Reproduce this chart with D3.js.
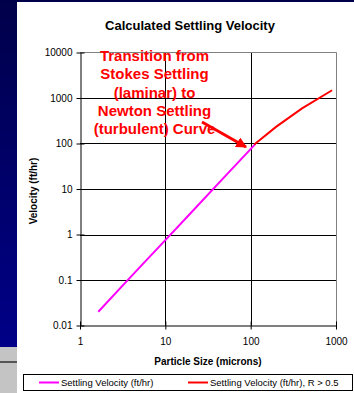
<!DOCTYPE html>
<html>
<head>
<meta charset="utf-8">
<script src="https://cdn.jsdelivr.net/npm/d3@7"></script>
<style>
  html, body { margin: 0; padding: 0; background: #000060; }
  svg { display: block; }
  text { font-family: "Liberation Sans", Arial, sans-serif; }
</style>
</head>
<body>
<svg id="chart" width="354" height="393"></svg>
<script>
// Particle size (microns) and settling velocity (ft/hr)
const stokesSize = [1.64, 3, 5, 10, 20, 50, 114];
const stokesVelocity = [0.02, 0.068, 0.19, 0.75, 3.0, 19, 98];

const newtonSize = [110, 200, 400, 900];
const newtonVelocity = [95, 235, 590, 1480];

const xTicks = [1, 10, 100, 1000];
const yTicks = [0.01, 0.1, 1, 10, 100, 1000, 10000];

const titleText = "Calculated Settling Velocity";
const xTitle = "Particle Size (microns)";
const yTitle = "Velocity (ft/hr)";
const seriesNames = ["Settling Velocity (ft/hr)", "Settling Velocity (ft/hr), R > 0.5"];
const seriesColors = ["#ff00ff", "#ff0000"];
const noteLines = ["Transition from", "Stokes Settling", "(laminar) to", "Newton Settling", "(turbulent) Curve"];

const svg = d3.select("#chart");

// slide background: navy gradient, grey strip at lower left, white chart panel
const defs = svg.append("defs");
const grad = defs.append("linearGradient").attr("id", "navy")
  .attr("x1", 0).attr("y1", 0).attr("x2", 0).attr("y2", 1);
grad.append("stop").attr("offset", 0).attr("stop-color", "#00004a");
grad.append("stop").attr("offset", 1).attr("stop-color", "#000090");
svg.append("rect").attr("width", 354).attr("height", 393).attr("fill", "url(#navy)");
svg.append("rect").attr("x", 0).attr("y", 347).attr("width", 17).attr("height", 46).attr("fill", "#c4c4c4");
svg.append("rect").attr("x", 0).attr("y", 361).attr("width", 17).attr("height", 2).attr("fill", "#555");
svg.append("rect").attr("x", 17).attr("y", 2).attr("width", 337).attr("height", 391).attr("fill", "#fff");

const plot = { left: 80, right: 336, top: 52.5, bottom: 325.5 };

const x = d3.scaleLog().domain([1, 1000]).range([plot.left, plot.right]);
const y = d3.scaleLog().domain([0.01, 10000]).range([plot.bottom, plot.top]);

// title
svg.append("text").attr("x", 190).attr("y", 30).attr("text-anchor", "middle")
  .attr("font-size", 13).attr("font-weight", "bold").attr("fill", "#000").text(titleText);

// gridlines
const g = svg.append("g");
g.selectAll("line.hg").data(yTicks.slice(1, -1)).join("line")
  .attr("x1", plot.left).attr("x2", plot.right)
  .attr("y1", d => Math.round(y(d)) + 0.5).attr("y2", d => Math.round(y(d)) + 0.5)
  .attr("stroke", "#000").attr("stroke-width", 1);
g.selectAll("line.vg").data(xTicks.slice(1, -1)).join("line")
  .attr("y1", plot.top).attr("y2", plot.bottom)
  .attr("x1", d => Math.round(x(d)) + 0.5).attr("x2", d => Math.round(x(d)) + 0.5)
  .attr("stroke", "#000").attr("stroke-width", 1);

// plot border (top/right grey)
g.append("line").attr("x1", plot.left).attr("x2", plot.right + 0.5)
  .attr("y1", plot.top).attr("y2", plot.top).attr("stroke", "#808080");
g.append("line").attr("x1", plot.right + 0.5).attr("x2", plot.right + 0.5)
  .attr("y1", plot.top).attr("y2", plot.bottom).attr("stroke", "#808080");

// axes with crossing ticks
const yAxis = d3.axisLeft(y).tickValues(yTicks).tickFormat(d => String(d)).tickSizeInner(4).tickSizeOuter(0).tickPadding(4);
const ya = svg.append("g").attr("transform", `translate(${plot.left + 0.5},0)`).call(yAxis);
ya.select(".domain").attr("stroke", "#000");
ya.selectAll(".tick line").attr("x1", -4).attr("x2", 4).attr("stroke", "#000");
ya.selectAll(".tick text").attr("font-size", 10).attr("font-family", "Liberation Sans, Arial, sans-serif").attr("fill", "#000");

const xAxis = d3.axisBottom(x).tickValues(xTicks).tickFormat(d => String(d)).tickSizeInner(4).tickSizeOuter(0).tickPadding(8);
const xa = svg.append("g").attr("transform", `translate(0,${plot.bottom})`).call(xAxis);
xa.select(".domain").attr("stroke", "#000");
xa.selectAll(".tick line").attr("y1", -4).attr("y2", 4).attr("stroke", "#000");
xa.selectAll(".tick text").attr("font-size", 10).attr("font-family", "Liberation Sans, Arial, sans-serif").attr("fill", "#000");

// axis titles
svg.append("text").attr("x", 208).attr("y", 365).attr("text-anchor", "middle")
  .attr("font-size", 10).attr("font-weight", "bold").text(xTitle);
svg.append("text").attr("transform", "translate(37,191) rotate(-90)").attr("text-anchor", "middle")
  .attr("font-size", 10).attr("font-weight", "bold").text(yTitle);

// series
const line = d3.line().x(d => x(d[0])).y(d => y(d[1]));
svg.append("path").datum(d3.zip(stokesSize, stokesVelocity))
  .attr("d", line).attr("fill", "none").attr("stroke", seriesColors[0]).attr("stroke-width", 2);
svg.append("path").datum(d3.zip(newtonSize, newtonVelocity))
  .attr("d", line).attr("fill", "none").attr("stroke", seriesColors[1]).attr("stroke-width", 2);

// annotation
const note = svg.append("text").attr("text-anchor", "middle").attr("font-size", 15)
  .attr("font-weight", "bold").attr("fill", "#ff0000");
noteLines.forEach((t, i) => {
  note.append("tspan").attr("x", 154.5).attr("y", 61 + i * 18.3).text(t);
});
defs.append("marker").attr("id", "arrowhead").attr("viewBox", "0 0 10 10")
  .attr("refX", 9).attr("refY", 5).attr("markerWidth", 3.6).attr("markerHeight", 3.6)
  .attr("markerUnits", "strokeWidth").attr("orient", "auto")
  .append("path").attr("d", "M0,0 L10,5 L0,10 Z").attr("fill", "#ff0000");
svg.append("line").attr("x1", 202).attr("y1", 122).attr("x2", 246).attr("y2", 147)
  .attr("stroke", "#ff0000").attr("stroke-width", 3).attr("marker-end", "url(#arrowhead)");

// legend
const lg = svg.append("g");
lg.append("rect").attr("x", 23.5).attr("y", 374.5).attr("width", 329).attr("height", 16)
  .attr("fill", "#fff").attr("stroke", "#000");
const legendX = [39, 188];
seriesNames.forEach((name, i) => {
  lg.append("line").attr("x1", legendX[i]).attr("x2", legendX[i] + 20)
    .attr("y1", 382.5).attr("y2", 382.5).attr("stroke", seriesColors[i]).attr("stroke-width", 2);
  lg.append("text").attr("x", legendX[i] + 22).attr("y", 386)
    .attr("font-size", 9.5).attr("fill", "#000").text(name);
});
</script>
</body>
</html>
